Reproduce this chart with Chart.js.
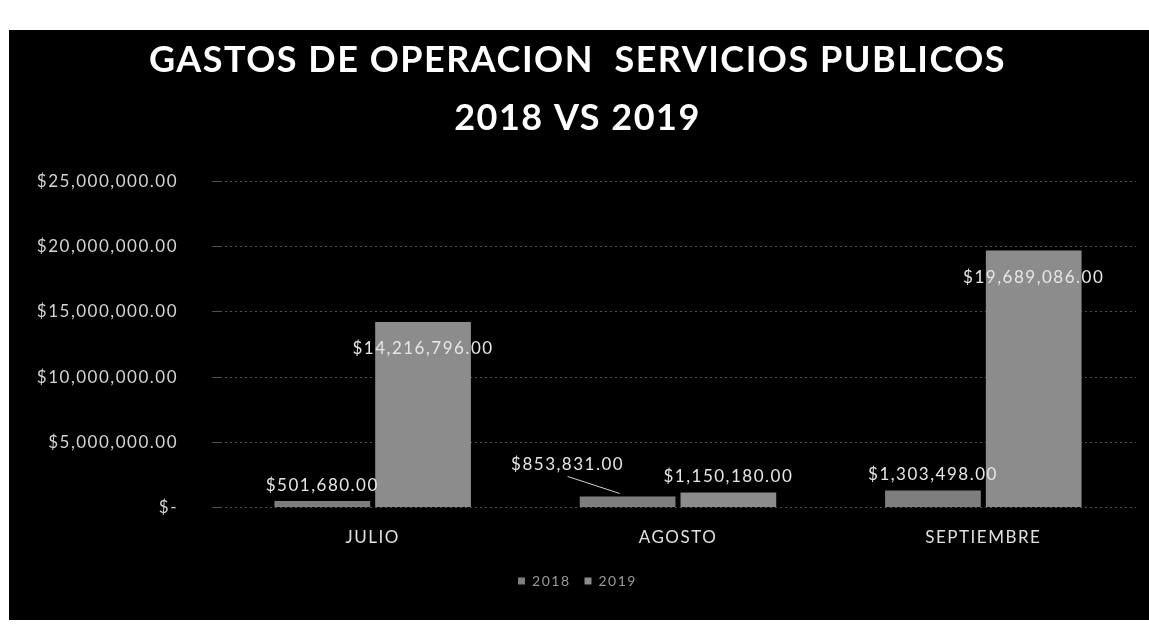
<!DOCTYPE html>
<html>
<head>
<meta charset="utf-8">
<script src="https://cdn.jsdelivr.net/npm/chart.js@4"></script>
<style>
    body { margin: 0; background: #ffffff; }
    #frame { position: absolute; left: 9px; top: 30px; width: 1140px; height: 590px; background: #000000; }
</style>
</head>
<body>
<div id="frame"><canvas id="gastos-chart" width="1140" height="590"></canvas></div>
<script>
// --- Chart data ---
const months = ['JULIO', 'AGOSTO', 'SEPTIEMBRE'];
const gastos2018 = [501680, 853831, 1303498];
const gastos2019 = [14216796, 1150180, 19689086];
const yTicks = [0, 5000000, 10000000, 15000000, 20000000, 25000000];

function formatMoney(v) {
    if (v === 0) return '$-';
    return '$' + v.toLocaleString('en-US', {minimumFractionDigits: 2, maximumFractionDigits: 2});
}

// the excel text is spaced wider than Lato, so open it up a bit
const spacing = {
    id: 'spacing',
    beforeLayout(chart) { chart.ctx.letterSpacing = '1.5px'; },
    beforeDraw(chart) { chart.ctx.letterSpacing = '1.5px'; }
};

// draws the value labels like the excel data labels
const valueLabels = {
    id: 'valueLabels',
    afterDatasetsDraw(chart) {
        const ctx = chart.ctx;
        ctx.save();
        ctx.font = '17px Lato';
        ctx.fillStyle = '#e6e6e6';
        ctx.strokeStyle = '#d0d0d0';
        ctx.lineWidth = 1;
        ctx.textAlign = 'center';
        ctx.textBaseline = 'middle';
        const meta19 = chart.getDatasetMeta(1).data;
        chart.data.datasets.forEach((ds, i) => {
            chart.getDatasetMeta(i).data.forEach((bar, j) => {
                const text = formatMoney(ds.data[j]);
                const h = bar.base - bar.y;
                let x = bar.x;
                let y = h > 60 ? bar.y + 27 : bar.y - 16;
                // when both bars are short the 2018 label gets pushed out with a leader line
                if (i === 0 && (meta19[j].base - meta19[j].y) <= 60) {
                    x -= 60;
                    y -= 16;
                    ctx.beginPath();
                    ctx.moveTo(x, y + 12);
                    ctx.lineTo(bar.x - 8, bar.y - 3);
                    ctx.stroke();
                }
                ctx.fillText(text, x, y);
            });
        });
        ctx.restore();
    }
};

const ctx = document.getElementById('gastos-chart').getContext('2d');
const gastosChart = new Chart(ctx, {
    type: 'bar',
    data: {
        labels: months,
        datasets: [
            {label: '2018', data: gastos2018, backgroundColor: '#7e7e7e', categoryPercentage: 0.66, barPercentage: 0.95},
            {label: '2019', data: gastos2019, backgroundColor: '#8c8c8c', categoryPercentage: 0.66, barPercentage: 0.95}
        ]
    },
    options: {
        responsive: false,
        animation: false,
        layout: {padding: {left: 10, right: 13, top: 2, bottom: 22}},
        plugins: {
            title: {
                display: true,
                text: ['GASTOS DE OPERACION  SERVICIOS PUBLICOS', '2018 VS 2019'],
                color: '#ffffff',
                font: {family: 'Lato', size: 36, weight: 'bold', lineHeight: 1.6},
                padding: {top: 0, bottom: 34}
            },
            legend: {
                position: 'bottom',
                labels: {
                    color: '#9a9a9a',
                    font: {family: 'Lato', size: 14},
                    boxWidth: 7,
                    boxHeight: 7,
                    padding: 14
                }
            },
            tooltip: {enabled: false}
        },
        scales: {
            x: {
                grid: {display: false},
                border: {display: false},
                ticks: {color: '#e0e0e0', font: {family: 'Lato', size: 17}, padding: 12}
            },
            y: {
                min: 0,
                max: 25000000,
                afterBuildTicks: axis => { axis.ticks = yTicks.map(v => ({value: v})); },
                afterFit: axis => { axis.width = 201; },
                grid: {color: '#4e4e4e', lineWidth: 1},
                border: {display: false, dash: [2, 3]},
                ticks: {
                    color: '#d4d4d4',
                    font: {family: 'Lato', size: 17},
                    padding: 34,
                    callback: v => formatMoney(v)
                }
            }
        }
    },
    plugins: [spacing, valueLabels]
});
</script>
</body>
</html>
